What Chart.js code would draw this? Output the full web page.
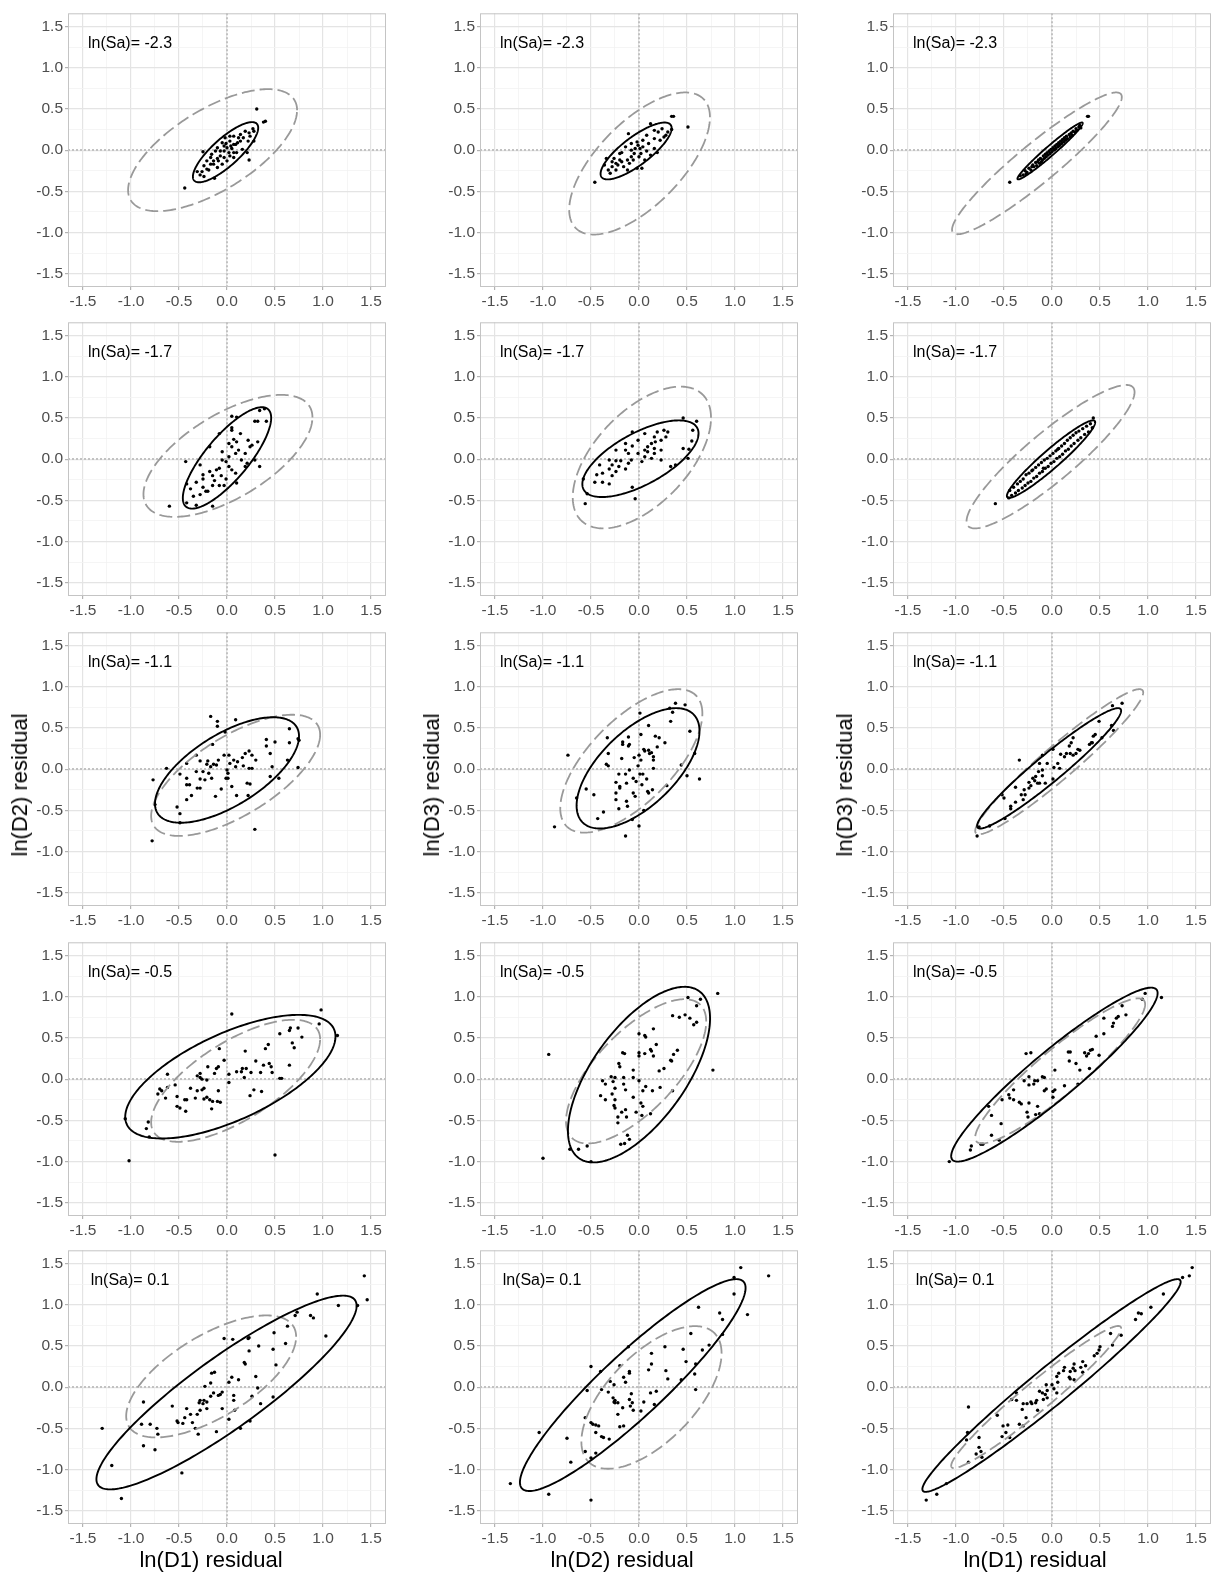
<!DOCTYPE html>
<html>
<head>
<meta charset="utf-8">
<script src="https://cdn.jsdelivr.net/npm/chart.js@4.4.0/dist/chart.umd.min.js"></script>
<style>
  body { margin: 0; background: #fff; width: 1214px; height: 1574px; position: relative; overflow: hidden;
         font-family: "Liberation Sans", Arial, sans-serif; }
  canvas.panel { position: absolute; }
  .ttl { position: absolute; font-size: 22px; color: #000; white-space: nowrap; transform: translate(-50%, -50%); }
  .ttl.rot { transform: translate(-50%, -50%) rotate(-90deg); }
</style>
</head>
<body>
<script>
// ---- data ----
const saLabels = ['-2.3', '-1.7', '-1.1', '-0.5', '0.1'];
const xTitles = ['ln(D1) residual', 'ln(D2) residual', 'ln(D1) residual'];
const yTitles = ['ln(D2) residual', 'ln(D3) residual', 'ln(D3) residual'];
const tickVals = [-1.5, -1.25, -1, -0.75, -0.5, -0.25, 0, 0.25, 0.5, 0.75, 1, 1.25, 1.5];

// ellipses: [centre x, centre y, half x-extent, half y-extent, correlation]
const solidEll = [
  [-0.015, -0.025, 0.34, 0.365, 0.81], [-0.03, -0.01, 0.37, 0.345, 0.8], [-0.02, -0.01, 0.34, 0.345, 0.975],
  [0, 0.015, 0.46, 0.615, 0.79], [0.015, 0.005, 0.605, 0.465, 0.66], [-0.01, 0, 0.46, 0.47, 0.95],
  [0, -0.01, 0.75, 0.64, 0.64], [-0.01, 0.01, 0.64, 0.73, 0.62], [-0.03, 0.01, 0.75, 0.73, 0.957],
  [0.035, 0.03, 1.095, 0.75, 0.65], [0, 0.055, 0.74, 1.065, 0.64], [0.025, 0.055, 1.075, 1.055, 0.937],
  [-0.005, -0.065, 1.355, 1.175, 0.895], [-0.065, 0.025, 1.175, 1.285, 0.917], [-0.005, 0.02, 1.345, 1.29, 0.974]
];
const dashedEll = [
  [-0.15, 0, 0.88, 0.74, 0.654], [0.006, -0.162, 0.733, 0.862, 0.65], [-0.157, -0.16, 0.884, 0.86, 0.935],
  [0.01, 0.04, 0.88, 0.74, 0.63], [0.03, 0.02, 0.72, 0.86, 0.56], [-0.015, 0.03, 0.875, 0.87, 0.9],
  [0.09, -0.075, 0.88, 0.735, 0.67], [-0.08, 0.1, 0.74, 0.87, 0.66], [0.075, 0.09, 0.875, 0.88, 0.955],
  [0.09, -0.02, 0.88, 0.74, 0.68], [-0.03, 0.095, 0.73, 0.875, 0.69], [0.085, 0.1, 0.885, 0.88, 0.918],
  [-0.165, 0.13, 0.885, 0.74, 0.65], [0.13, -0.125, 0.73, 0.865, 0.62], [-0.165, -0.12, 0.885, 0.862, 0.966]
];

const pts_r1c1 = [[0.31,0.5],[0.38,0.34],[0.4,0.35],[0.27,0.26],[0.23,0.21],[0.22,0.11],[0.23,-0.12],[0.28,0.11],[0.14,0.19],[0.19,0.23],[0.07,0.17],[0.11,0.09],[0.04,0.05],[0,0.03],[-0.03,-0.01],[0.02,-0.03],[0.05,0.02],[-0.07,-0.07],[-0.1,-0.1],[-0.14,-0.13],[-0.17,-0.17],[-0.21,-0.23],[-0.26,-0.26],[-0.28,-0.3],[-0.24,-0.32],[-0.13,-0.34],[-0.25,-0.02],[-0.44,-0.46],[-0.1,0.03],[-0.05,0.09],[-0.02,0.15],[0.03,0.17],[0.09,0.07],[0.16,0.01],[0.21,-0.03],[0.07,-0.09],[0,-0.13],[-0.05,-0.17],[-0.1,-0.21],[-0.17,-0.09],[-0.21,-0.13],[-0.16,-0.05],[-0.12,-0.01],[-0.19,-0.24],[-0.31,-0.26],[0.1,-0.03],[0.14,0.11],[0.17,0.15],[0.24,0.17],[0.28,0.23],[0.07,-0.03],[0.03,-0.07],[-0.03,-0.09],[-0.09,-0.13],[-0.14,-0.17],[-0.24,-0.19],[-0.01,0.08],[0.03,0.11],[0.07,0.07],[0.12,0.15],[-0.07,-0.01],[-0.03,0.05]];
const pts_r1c2 = [[0.34,0.41],[0.36,0.41],[0.51,0.28],[-0.46,-0.39],[-0.11,0.2],[0.12,0.32],[0.24,0.26],[0.34,0.25],[0.28,0.18],[0.2,0.22],[0.16,0.14],[0.1,0.08],[0.04,0.04],[-0.02,0.1],[-0.01,0.06],[0.01,0.02],[-0.05,-0.04],[-0.08,-0.08],[-0.12,-0.12],[-0.18,-0.03],[-0.2,-0.12],[-0.24,-0.16],[-0.28,-0.2],[-0.32,-0.24],[-0.3,-0.28],[-0.34,-0.1],[-0.16,-0.2],[-0.12,-0.24],[-0.02,-0.22],[0.03,-0.22],[0.06,-0.12],[0.12,-0.06],[0.19,-0.03],[0.16,0.02],[0.08,-0.01],[0.02,-0.04],[-0.04,0.02],[-0.08,0],[-0.14,0.04],[-0.2,-0.04],[-0.26,-0.1],[-0.22,-0.18],[-0.18,-0.14],[-0.1,-0.16],[-0.06,-0.12],[0,-0.08],[0.22,0.12],[0.26,0.16],[0.3,0.22],[0.16,0.24],[0.08,0.18],[0.04,0.12],[-0.28,-0.14],[-0.36,-0.18],[-0.24,-0.24],[-0.08,0.08]];
const pts_r1c3 = [[-0.33,-0.31],[-0.3,-0.3],[-0.28,-0.25],[-0.26,-0.27],[-0.24,-0.22],[-0.22,-0.24],[-0.2,-0.18],[-0.19,-0.2],[-0.17,-0.15],[-0.16,-0.19],[-0.14,-0.12],[-0.13,-0.16],[-0.12,-0.1],[-0.1,-0.12],[-0.09,-0.07],[-0.08,-0.1],[-0.07,-0.05],[-0.06,-0.08],[-0.05,-0.03],[-0.04,-0.06],[-0.03,-0.01],[-0.02,-0.04],[-0.01,0.01],[0,-0.02],[0.01,0.03],[0.02,0],[0.03,0.05],[0.04,0.02],[0.05,0.07],[0.06,0.04],[0.07,0.09],[0.08,0.06],[0.09,0.11],[0.1,0.08],[0.11,0.13],[0.12,0.1],[0.13,0.15],[0.14,0.12],[0.15,0.17],[0.16,0.14],[0.18,0.19],[0.19,0.16],[0.2,0.21],[0.21,0.18],[0.22,0.23],[0.24,0.22],[0.25,0.26],[0.26,0.24],[0.28,0.28],[0.29,0.3],[0.3,0.27],[-0.21,-0.2],[-0.15,-0.14],[-0.11,-0.14],[0.03,0.01],[0.07,0.05],[-0.27,-0.29],[0.37,0.41],[0.38,0.41],[-0.44,-0.39]];
const pts_r2c1 = [[-0.6,-0.57],[-0.42,-0.53],[-0.32,-0.56],[-0.15,-0.57],[-0.35,-0.45],[-0.28,-0.43],[-0.22,-0.39],[-0.25,-0.34],[-0.15,-0.32],[-0.08,-0.32],[-0.03,-0.32],[0.1,-0.29],[-0.25,-0.24],[-0.25,-0.19],[-0.15,-0.2],[-0.11,-0.13],[-0.08,-0.11],[-0.18,-0.15],[-0.28,-0.07],[-0.43,-0.03],[0.02,-0.09],[0.05,-0.13],[0.09,-0.17],[0.19,-0.09],[0.34,-0.09],[-0.01,-0.03],[-0.05,-0.01],[0.02,0.03],[0.09,0.07],[0.12,0.11],[0.05,0.15],[0.02,0.19],[0.1,0.21],[0.07,0.24],[0.24,0.15],[0.26,0.17],[0.32,0.21],[0.22,0.23],[0.14,0.31],[0.05,0.35],[0.05,0.38],[0.1,0.51],[0.05,0.52],[0.29,0.46],[0.32,0.46],[0.41,0.46],[0.34,0.59],[0.39,0.61],[-0.18,0.15],[-0.08,0.31],[-0.05,0.09],[-0.42,-0.3],[-0.32,-0.28],[-0.38,-0.36],[-0.2,-0.39],[-0.01,-0.24],[0.19,0.07],[0.15,-0.01],[0.29,-0.01],[0.21,-0.05],[-0.06,-0.2],[-0.13,-0.26]];
const pts_r2c2 = [[-0.56,-0.54],[-0.54,-0.42],[-0.58,-0.24],[-0.46,-0.28],[-0.38,-0.28],[-0.31,-0.3],[-0.44,-0.19],[-0.38,-0.17],[-0.28,-0.2],[-0.24,-0.15],[-0.31,-0.12],[-0.21,-0.09],[-0.14,-0.12],[-0.41,-0.07],[-0.31,-0.01],[-0.24,-0.02],[-0.19,-0.02],[-0.11,-0.05],[-0.07,-0.34],[-0.04,-0.48],[-0.08,-0.01],[-0.01,0.07],[0.06,0.11],[0.09,0.15],[0.13,0.19],[0.17,0.21],[0.23,0.23],[0.28,0.27],[0.3,0.33],[0.26,0.35],[0.19,0.33],[0.06,0.31],[-0.01,0.23],[-0.07,0.16],[-0.14,0.11],[-0.11,0.07],[0.06,0.03],[0.13,0.01],[0.16,0.07],[0.33,-0.09],[0.38,-0.07],[0.46,0.13],[0.52,0.12],[0.55,0.22],[0.56,0.35],[0.46,0.5],[0.6,0.46],[0.51,0.01],[0.16,0.13],[0.23,0.11],[0.09,0.09],[0.03,-0.03],[0.23,-0.01],[-0.14,0.19],[-0.24,0.11],[-0.28,-0.07],[0.16,0.27],[-0.07,0.33]];
const pts_r2c3 = [[-0.59,-0.54],[-0.45,-0.47],[-0.44,-0.38],[-0.42,-0.44],[-0.4,-0.34],[-0.38,-0.41],[-0.36,-0.3],[-0.35,-0.38],[-0.33,-0.27],[-0.31,-0.35],[-0.3,-0.24],[-0.28,-0.32],[-0.27,-0.19],[-0.25,-0.29],[-0.24,-0.17],[-0.22,-0.27],[-0.2,-0.13],[-0.19,-0.23],[-0.17,-0.1],[-0.16,-0.21],[-0.14,-0.07],[-0.13,-0.17],[-0.11,-0.04],[-0.1,-0.15],[-0.08,-0.01],[-0.07,-0.11],[-0.05,0.01],[-0.04,-0.09],[-0.02,0.04],[-0.01,-0.05],[0.01,0.07],[0.02,-0.03],[0.04,0.1],[0.05,0.01],[0.07,0.13],[0.08,0.03],[0.1,0.16],[0.11,0.06],[0.13,0.19],[0.14,0.1],[0.16,0.23],[0.17,0.12],[0.19,0.26],[0.2,0.16],[0.22,0.29],[0.23,0.19],[0.25,0.32],[0.27,0.23],[0.28,0.34],[0.3,0.26],[0.32,0.37],[0.34,0.3],[0.36,0.4],[0.38,0.33],[0.4,0.43],[0.42,0.38],[0.43,0.5],[-0.21,-0.14],[-0.09,-0.11],[0.06,0.12]];
const pts_r3c1 = [[-0.17,0.64],[-0.1,0.58],[-0.1,0.52],[0.09,0.6],[-0.02,0.45],[-0.15,0.3],[0.65,0.49],[0.74,0.37],[0.75,0.35],[0.41,0.36],[0.5,0.33],[0.41,0.28],[0.65,0.32],[0.45,0.19],[0.63,0.11],[0.47,0.03],[0.74,0.02],[0.45,-0.09],[0.54,-0.11],[0.19,0.19],[0.23,0.22],[0.26,0.17],[0.3,0.11],[0.16,0.14],[0.17,0.04],[0.23,0.01],[0.26,0.01],[0.21,-0.17],[0.24,-0.18],[0.1,-0.32],[0.22,-0.32],[0.29,-0.73],[0.05,-0.21],[0.01,-0.11],[0.01,-0.05],[0,-0.01],[-0.03,0.17],[0.02,0.17],[0.03,0.07],[0.07,0.11],[0.09,0.03],[-0.09,0.11],[-0.11,0.05],[-0.14,0.06],[-0.17,0.03],[-0.2,0.1],[-0.28,0.1],[-0.32,0.17],[-0.42,0.07],[-0.25,-0.03],[-0.19,-0.05],[-0.16,-0.11],[-0.23,-0.13],[-0.28,-0.12],[-0.31,-0.23],[-0.28,-0.23],[-0.39,-0.19],[-0.42,-0.19],[-0.42,-0.11],[-0.49,-0.06],[-0.06,-0.24],[-0.12,-0.33],[-0.37,-0.32],[-0.42,-0.37],[-0.52,-0.46],[-0.49,-0.54],[-0.49,-0.65],[-0.75,-0.43],[-0.77,-0.13],[-0.78,-0.87],[-0.63,0.01],[-0.32,-0.03],[-0.21,0.06],[-0.01,-0.11],[0.11,0.09]];
const pts_r3c2 = [[0.38,0.8],[0.48,0.78],[0.32,0.74],[0.35,0.69],[0.33,0.58],[0.01,0.68],[0.1,0.53],[0.53,0.46],[0.58,0.19],[0.44,0.05],[0.63,-0.12],[0.5,-0.08],[0.29,-0.2],[0.02,0.42],[0.17,0.4],[0.21,0.38],[0.27,0.32],[0.19,0.27],[-0.11,0.39],[-0.17,0.33],[-0.11,0.28],[-0.1,0.3],[-0.32,0.19],[-0.34,0.06],[-0.32,0.04],[-0.18,0.13],[-0.05,0.14],[0,0.17],[0.02,0.11],[0.06,0.22],[0.1,0.23],[0.11,0.19],[0.15,0.15],[0.13,0.2],[0.15,0.11],[0.15,0.01],[-0.01,0.04],[-0.1,-0.01],[-0.21,-0.06],[-0.14,-0.06],[-0.06,-0.11],[-0.03,-0.15],[0.01,-0.06],[0.04,-0.06],[0.08,-0.12],[0.03,-0.19],[-0.06,-0.29],[-0.04,-0.33],[0.09,-0.27],[0.1,-0.29],[0.14,-0.25],[-0.24,-0.16],[-0.2,-0.21],[-0.2,-0.23],[-0.24,-0.29],[-0.24,-0.37],[-0.13,-0.39],[-0.12,-0.45],[-0.21,-0.48],[-0.47,-0.31],[-0.55,-0.24],[-0.65,-0.35],[-0.37,-0.52],[-0.43,-0.6],[-0.07,-0.61],[0.05,-0.5],[0,-0.69],[-0.14,-0.81],[-0.74,0.17],[-0.88,-0.7],[-0.33,0.38],[-0.17,0.3],[0.05,0.24],[-0.13,-0.17]];
const pts_r3c3 = [[0.73,0.8],[0.63,0.77],[0.49,0.58],[0.62,0.53],[0.64,0.47],[0.43,0.4],[0.45,0.42],[0.52,0.38],[0.41,0.32],[0.39,0.3],[0.22,0.38],[0.2,0.32],[0.18,0.28],[0.29,0.23],[0.25,0.19],[0.22,0.17],[0.19,0.19],[0.15,0.19],[0.13,0.15],[0.09,0.18],[0.01,0.24],[0.06,0.07],[0.02,0.02],[0.01,-0.12],[-0.05,0.07],[-0.13,0.07],[-0.1,-0.01],[-0.14,-0.03],[-0.17,-0.09],[-0.2,-0.11],[-0.18,-0.14],[-0.15,-0.17],[-0.13,-0.17],[-0.07,-0.17],[-0.22,-0.2],[-0.24,-0.23],[-0.28,-0.31],[-0.3,-0.37],[-0.32,-0.31],[-0.38,-0.4],[-0.43,-0.45],[-0.43,-0.48],[-0.49,-0.6],[-0.5,-0.35],[-0.52,-0.31],[-0.38,-0.22],[-0.34,0.11],[-0.65,-0.69],[-0.76,-0.7],[-0.78,-0.81],[-0.1,0.17],[0.08,0.01],[0.27,0.24],[0.42,0.32],[-0.24,-0.16],[-0.29,-0.25],[-0.1,-0.08]];
const pts_r4c1 = [[0.05,0.79],[0.98,0.84],[0.96,0.67],[1.15,0.53],[0.66,0.62],[0.74,0.62],[0.65,0.59],[0.55,0.55],[0.78,0.51],[0.68,0.44],[0.7,0.38],[0.43,0.42],[0.4,0.37],[0.19,0.34],[0.3,0.22],[0.38,0.17],[0.44,0.19],[0.46,0.15],[0.47,0.08],[0.65,0.17],[0.55,0.01],[0.57,0.01],[0.35,0.08],[0.25,0.08],[0.2,0.13],[0.15,0.09],[0.18,0.02],[0.28,-0.13],[0.36,-0.15],[0.24,-0.2],[0.5,-0.92],[0.02,0.06],[0.02,-0.04],[-0.03,0.23],[-0.08,0.37],[-0.09,0.15],[-0.11,0.13],[-0.2,0.15],[-0.13,0.07],[-0.28,0.02],[-0.31,0.04],[-0.26,0],[-0.24,-0.11],[-0.26,-0.13],[-0.31,-0.14],[-0.38,-0.11],[-0.33,-0.23],[-0.24,-0.24],[-0.21,-0.22],[-0.18,-0.25],[-0.15,-0.27],[-0.1,-0.27],[-0.07,-0.28],[-0.09,-0.14],[-0.16,-0.36],[-0.42,-0.25],[-0.44,-0.25],[-0.43,-0.39],[-0.49,-0.35],[-0.52,-0.33],[-0.52,-0.21],[-0.54,-0.07],[-0.64,-0.23],[-0.7,-0.12],[-0.72,-0.18],[-0.68,-0.14],[-0.62,0.06],[-0.62,-0.1],[-0.82,-0.52],[-0.84,-0.6],[-0.81,-0.7],[-1.06,-0.48],[-1.02,-0.99],[0.1,0.09],[0.16,0.13],[-0.21,-0.01],[-0.28,0.07]];
const pts_r4c2 = [[0.51,0.99],[0.64,0.97],[0.6,0.89],[0.82,1.04],[0.35,0.77],[0.42,0.75],[0.48,0.78],[0.53,0.74],[0.6,0.69],[0.57,0.66],[0.15,0.61],[0,0.55],[0.06,0.53],[0.07,0.51],[0.18,0.42],[0.12,0.36],[0.13,0.34],[0.15,0.28],[0.06,0.31],[0,0.32],[0,0.28],[-0.17,0.32],[-0.15,0.31],[-0.21,0.19],[-0.2,0.15],[-0.06,0.11],[0.21,0.1],[0.26,0.13],[0.34,0.22],[0.33,0.23],[0.36,0.3],[0.4,0.35],[0.35,-0.14],[0.22,-0.1],[0.14,-0.14],[0.07,-0.09],[0.04,-0.14],[0,-0.02],[-0.06,0.02],[-0.16,0.02],[-0.16,-0.06],[-0.14,-0.13],[-0.25,0.02],[-0.29,0.03],[-0.38,-0.02],[-0.35,-0.06],[-0.27,-0.03],[-0.25,-0.11],[-0.4,-0.2],[-0.35,-0.25],[-0.28,-0.18],[-0.25,-0.25],[-0.26,-0.32],[-0.25,-0.35],[-0.22,-0.46],[-0.18,-0.4],[-0.14,-0.37],[-0.13,-0.46],[-0.03,-0.4],[-0.06,-0.22],[0.02,-0.29],[0.04,-0.33],[0.03,-0.44],[0.12,-0.42],[-0.12,-0.68],[-0.1,-0.73],[-0.19,-0.79],[-0.15,-0.78],[-0.54,-0.81],[-0.63,-0.85],[-0.72,-0.85],[-0.5,-1.0],[-1.0,-0.96],[-0.94,0.3],[0.77,0.11],[-0.22,-0.53]];
const pts_r4c3 = [[0.97,1.04],[1.14,0.99],[0.94,0.97],[0.73,0.89],[0.77,0.78],[0.69,0.76],[0.67,0.74],[0.64,0.68],[0.63,0.64],[0.54,0.74],[0.54,0.55],[0.46,0.52],[0.49,0.29],[0.4,0.35],[0.34,0.32],[0.36,0.28],[0.38,0.31],[0.42,0.36],[0.39,0.13],[0.29,0.11],[0.25,0.19],[0.18,0.22],[0.17,0.33],[0.19,0.33],[0.03,0.11],[0.13,-0.08],[0.27,-0.06],[-0.1,0.03],[-0.08,0.02],[-0.15,-0.02],[-0.18,-0.02],[-0.19,-0.06],[-0.24,0.03],[-0.29,-0.02],[-0.24,-0.07],[-0.06,-0.12],[-0.08,-0.14],[0.01,-0.15],[0.01,-0.22],[-0.4,-0.13],[-0.45,-0.19],[-0.44,-0.23],[-0.52,-0.25],[-0.34,-0.28],[-0.32,-0.3],[-0.24,-0.29],[-0.15,-0.33],[-0.26,-0.4],[-0.25,-0.46],[-0.17,-0.43],[-0.13,-0.42],[-0.66,-0.33],[-0.63,-0.44],[-0.53,-0.54],[-0.63,-0.68],[-0.55,-0.74],[-0.74,-0.79],[-0.72,-0.79],[-0.84,-0.81],[-0.85,-0.86],[-1.07,-1.0],[-0.27,0.31],[-0.22,0.32],[-0.4,-0.25],[0.03,-0.13]];
const pts_r5c1 = [[1.43,1.35],[1.46,1.06],[1.36,0.99],[1.16,0.99],[0.94,1.13],[1.03,0.62],[0.87,0.87],[0.9,0.84],[0.71,0.87],[0.73,0.91],[0.63,0.74],[0.49,0.66],[0.61,0.53],[0.48,0.46],[0.51,0.27],[0.33,0.5],[0.23,0.44],[0.22,0.59],[0.23,0.6],[0.06,0.58],[-0.03,0.59],[0.18,0.3],[0.19,0.28],[0.3,0.13],[0.12,0.09],[0.05,0.12],[0.32,-0.01],[0.26,-0.11],[0.48,-0.12],[0.35,-0.2],[0.07,-0.16],[0.07,-0.1],[0.08,-0.28],[0.02,-0.39],[0.24,-0.41],[0.14,-0.5],[-0.13,0.18],[-0.16,0.17],[-0.17,0.05],[-0.23,0.01],[-0.17,-0.11],[-0.14,-0.07],[-0.07,-0.09],[-0.05,-0.26],[-0.09,-0.1],[-0.21,-0.26],[-0.25,-0.2],[-0.28,-0.16],[-0.29,-0.19],[-0.31,-0.33],[-0.38,-0.33],[-0.42,-0.26],[-0.44,-0.37],[-0.46,-0.44],[-0.52,-0.41],[-0.51,-0.43],[-0.57,-0.23],[-0.36,-0.43],[-0.33,-0.5],[-0.3,-0.57],[-0.11,-0.54],[-0.87,-0.18],[-0.89,-0.45],[-0.8,-0.45],[-0.73,-0.5],[-0.72,-0.57],[-0.87,-0.71],[-0.75,-0.76],[-0.47,-1.04],[-1.2,-0.95],[-1.3,-0.5],[-1.1,-1.35],[-0.21,-0.18],[-0.24,-0.16],[-0.28,-0.28],[-0.05,-0.06],[0.02,0.06]];
const pts_r5c2 = [[1.06,1.45],[1.35,1.35],[0.99,1.33],[0.99,1.13],[1.13,0.88],[0.84,0.9],[0.87,0.82],[0.62,0.97],[0.87,0.64],[0.73,0.51],[0.66,0.45],[0.54,0.65],[0.46,0.46],[0.49,0.31],[0.59,0.28],[0.58,0.16],[0.44,0.09],[0.59,-0.03],[0.28,0.2],[0.3,0.1],[0.27,0.49],[0.13,0.41],[0.13,0.28],[0.1,0.21],[-0.11,0.49],[-0.2,0.26],[-0.1,0.19],[-0.1,0.17],[-0.16,0.12],[-0.14,0.06],[-0.3,0.07],[-0.26,0.03],[-0.5,0.25],[-0.4,0.19],[-0.54,-0.04],[-0.39,-0.03],[-0.32,-0.06],[-0.27,-0.13],[-0.26,-0.18],[-0.22,-0.19],[-0.08,-0.08],[-0.1,-0.15],[-0.07,-0.19],[-0.09,-0.23],[-0.06,-0.28],[0.02,-0.29],[0.05,-0.18],[0.12,-0.07],[0.18,-0.05],[0.16,-0.21],[-0.17,-0.25],[-0.22,-0.33],[-0.16,-0.47],[-0.2,-0.48],[-0.45,-0.46],[-0.5,-0.43],[-0.48,-0.45],[-0.42,-0.47],[-0.56,-0.37],[-0.45,-0.55],[-0.39,-0.6],[-0.37,-0.61],[-0.31,-0.63],[-0.75,-0.62],[-1.04,-0.55],[-0.56,-0.78],[-0.45,-0.8],[-0.5,-0.86],[-0.71,-0.91],[-0.94,-1.3],[-1.34,-1.17],[-0.5,-1.37],[-0.25,-0.16],[-0.25,-0.19]];
const pts_r5c3 = [[1.46,1.45],[1.43,1.35],[1.36,1.33],[1.16,1.13],[1.03,0.97],[0.93,0.89],[0.9,0.9],[0.87,0.82],[0.72,0.63],[0.61,0.65],[0.63,0.51],[0.5,0.49],[0.49,0.45],[0.47,0.41],[0.32,0.31],[0.35,0.26],[0.3,0.24],[0.32,0.18],[0.23,0.28],[0.22,0.23],[0.19,0.19],[0.24,0.2],[0.19,0.1],[0.23,0.09],[0.13,0.24],[0.12,0.2],[0.07,0.17],[0.05,0.13],[0.06,0.06],[0,0.03],[0.02,-0.02],[0.05,-0.07],[-0.06,0.03],[-0.05,-0.04],[-0.07,-0.09],[-0.05,-0.13],[-0.09,-0.15],[-0.13,-0.05],[-0.1,-0.07],[-0.16,-0.16],[-0.17,-0.19],[-0.22,-0.18],[-0.21,-0.2],[-0.15,-0.28],[-0.26,-0.2],[-0.3,-0.2],[-0.31,-0.27],[-0.27,-0.37],[-0.3,-0.47],[-0.34,-0.45],[-0.37,-0.16],[-0.42,-0.15],[-0.37,-0.07],[-0.57,-0.34],[-0.51,-0.47],[-0.46,-0.46],[-0.52,-0.6],[-0.48,-0.55],[-0.44,-0.61],[-0.76,-0.61],[-0.76,-0.73],[-0.74,-0.78],[-0.79,-0.81],[-0.73,-0.85],[-0.87,-0.91],[-0.89,-0.64],[-0.88,-0.55],[-0.87,-0.24],[-1.1,-1.17],[-1.2,-1.3],[-1.31,-1.37],[0.18,0.12],[0.44,0.38]];

const panelPoints = [
  [pts_r1c1, pts_r1c2, pts_r1c3],
  [pts_r2c1, pts_r2c2, pts_r2c3],
  [pts_r3c1, pts_r3c2, pts_r3c3],
  [pts_r4c1, pts_r4c2, pts_r4c3],
  [pts_r5c1, pts_r5c2, pts_r5c3]
];

// ---- layout ----
const plotLeft = [68, 480, 893];
const plotTop = [6, 315, 625, 935, 1243];
const yAxisW = 40, xAxisH = 28, padTop = 4, padRight = 4;
const plotW = 318, plotH = 281;

Chart.defaults.font.family = '"Liberation Sans", Arial, sans-serif';

const isMajor = v => Math.abs(v * 2 - Math.round(v * 2)) < 1e-6;

function traceEllipse(ctx, xs, ys, e) {
    const [cx, cy, ax, ay, rho] = e;
    const phi = Math.acos(rho);
    ctx.beginPath();
    for (let i = 0; i <= 240; i++) {
        const t = i / 240 * 2 * Math.PI;
        const px = xs.getPixelForValue(cx + ax * Math.cos(t));
        const py = ys.getPixelForValue(cy + ay * Math.cos(t - phi));
        if (i === 0) ctx.moveTo(px, py); else ctx.lineTo(px, py);
    }
    ctx.closePath();
}

const panelDecor = {
    id: 'panelDecor',
    beforeDatasetsDraw(chart) {
        const { ctx, chartArea: a, scales: { x, y } } = chart;
        const x0 = Math.round(x.getPixelForValue(0)), y0 = Math.round(y.getPixelForValue(0));
        ctx.save();
        ctx.strokeStyle = '#c2c2c2';
        ctx.lineWidth = 2;
        ctx.setLineDash([2, 2]);
        ctx.beginPath();
        ctx.moveTo(a.left, y0); ctx.lineTo(a.right, y0);
        ctx.moveTo(x0, a.top); ctx.lineTo(x0, a.bottom);
        ctx.stroke();
        ctx.restore();
    },
    afterDatasetsDraw(chart, args, opts) {
        const { ctx, chartArea: a, scales: { x, y } } = chart;
        ctx.save();
        ctx.beginPath();
        ctx.rect(a.left, a.top, a.width, a.height);
        ctx.clip();
        // dashed ellipse
        ctx.strokeStyle = '#999999';
        ctx.lineWidth = 1.8;
        ctx.setLineDash([13, 5]);
        traceEllipse(ctx, x, y, opts.dashed);
        ctx.stroke();
        // solid ellipse
        ctx.strokeStyle = '#000';
        ctx.lineWidth = 1.9;
        ctx.setLineDash([]);
        traceEllipse(ctx, x, y, opts.solid);
        ctx.stroke();
        // label
        ctx.fillStyle = '#000';
        ctx.font = '16px "Liberation Sans", Arial, sans-serif';
        ctx.textAlign = 'center';
        ctx.textBaseline = 'middle';
        ctx.fillText('ln(Sa)= ' + opts.label, x.getPixelForValue(-1.01), y.getPixelForValue(1.29));
        ctx.restore();
        // panel border
        ctx.save();
        ctx.strokeStyle = '#c4c4c4';
        ctx.lineWidth = 1;
        ctx.strokeRect(a.left + 0.5, a.top + 0.5, a.width - 1, a.height - 1);
        ctx.restore();
    }
};

function axisOpts(isX) {
    const lim = isX ? 1.656 : 1.66;
    return {
        type: 'linear',
        min: -lim,
        max: lim,
        afterBuildTicks: s => { s.ticks = tickVals.map(v => ({ value: v })); },
        afterFit: s => { if (isX) s.height = xAxisH; else s.width = yAxisW; },
        ticks: {
            autoSkip: false,
            maxRotation: 0,
            padding: 2,
            color: '#4d4d4d',
            font: { size: 15.5 },
            callback: v => isMajor(v) ? v.toFixed(1) : ''
        },
        grid: {
            color: c => isMajor(c.tick.value) ? '#e4e4e4' : '#f2f2f2',
            lineWidth: c => isMajor(c.tick.value) ? 1.2 : 0.8,
            tickLength: 3,
            tickColor: c => isMajor(c.tick.value) ? '#b3b3b3' : 'rgba(0,0,0,0)'
        },
        border: { display: false }
    };
}

for (let r = 0; r < 5; r++) {
    for (let c = 0; c < 3; c++) {
        const idx = r * 3 + c;
        const cv = document.createElement('canvas');
        cv.className = 'panel';
        const w = yAxisW + plotW + padRight, h = padTop + plotH + xAxisH;
        cv.width = w; cv.height = h;
        cv.style.width = w + 'px'; cv.style.height = h + 'px';
        cv.style.left = (plotLeft[c] - yAxisW) + 'px';
        cv.style.top = (plotTop[r] - padTop) + 'px';
        document.body.appendChild(cv);

        new Chart(cv, {
            type: 'scatter',
            data: {
                datasets: [{
                    data: panelPoints[r][c].map(([x, y]) => ({ x, y })),
                    backgroundColor: '#000',
                    borderWidth: 0,
                    pointRadius: 1.7,
                    pointHoverRadius: 1.7
                }]
            },
            options: {
                responsive: false,
                animation: false,
                events: [],
                layout: { padding: { top: padTop, right: padRight, left: 0, bottom: 0 } },
                plugins: {
                    legend: { display: false },
                    tooltip: { enabled: false },
                    panelDecor: { solid: solidEll[idx], dashed: dashedEll[idx], label: saLabels[r] }
                },
                scales: { x: axisOpts(true), y: axisOpts(false) }
            },
            plugins: [panelDecor]
        });
    }
}

// axis titles
const xTitleX = [211, 622, 1035];
const yTitleX = [20, 432, 845];
xTitles.forEach((t, i) => {
    const d = document.createElement('div');
    d.className = 'ttl';
    d.textContent = t;
    d.style.left = xTitleX[i] + 'px';
    d.style.top = '1560px';
    document.body.appendChild(d);
});
yTitles.forEach((t, i) => {
    const d = document.createElement('div');
    d.className = 'ttl rot';
    d.textContent = t;
    d.style.left = yTitleX[i] + 'px';
    d.style.top = '785px';
    document.body.appendChild(d);
});
</script>
</body>
</html>
